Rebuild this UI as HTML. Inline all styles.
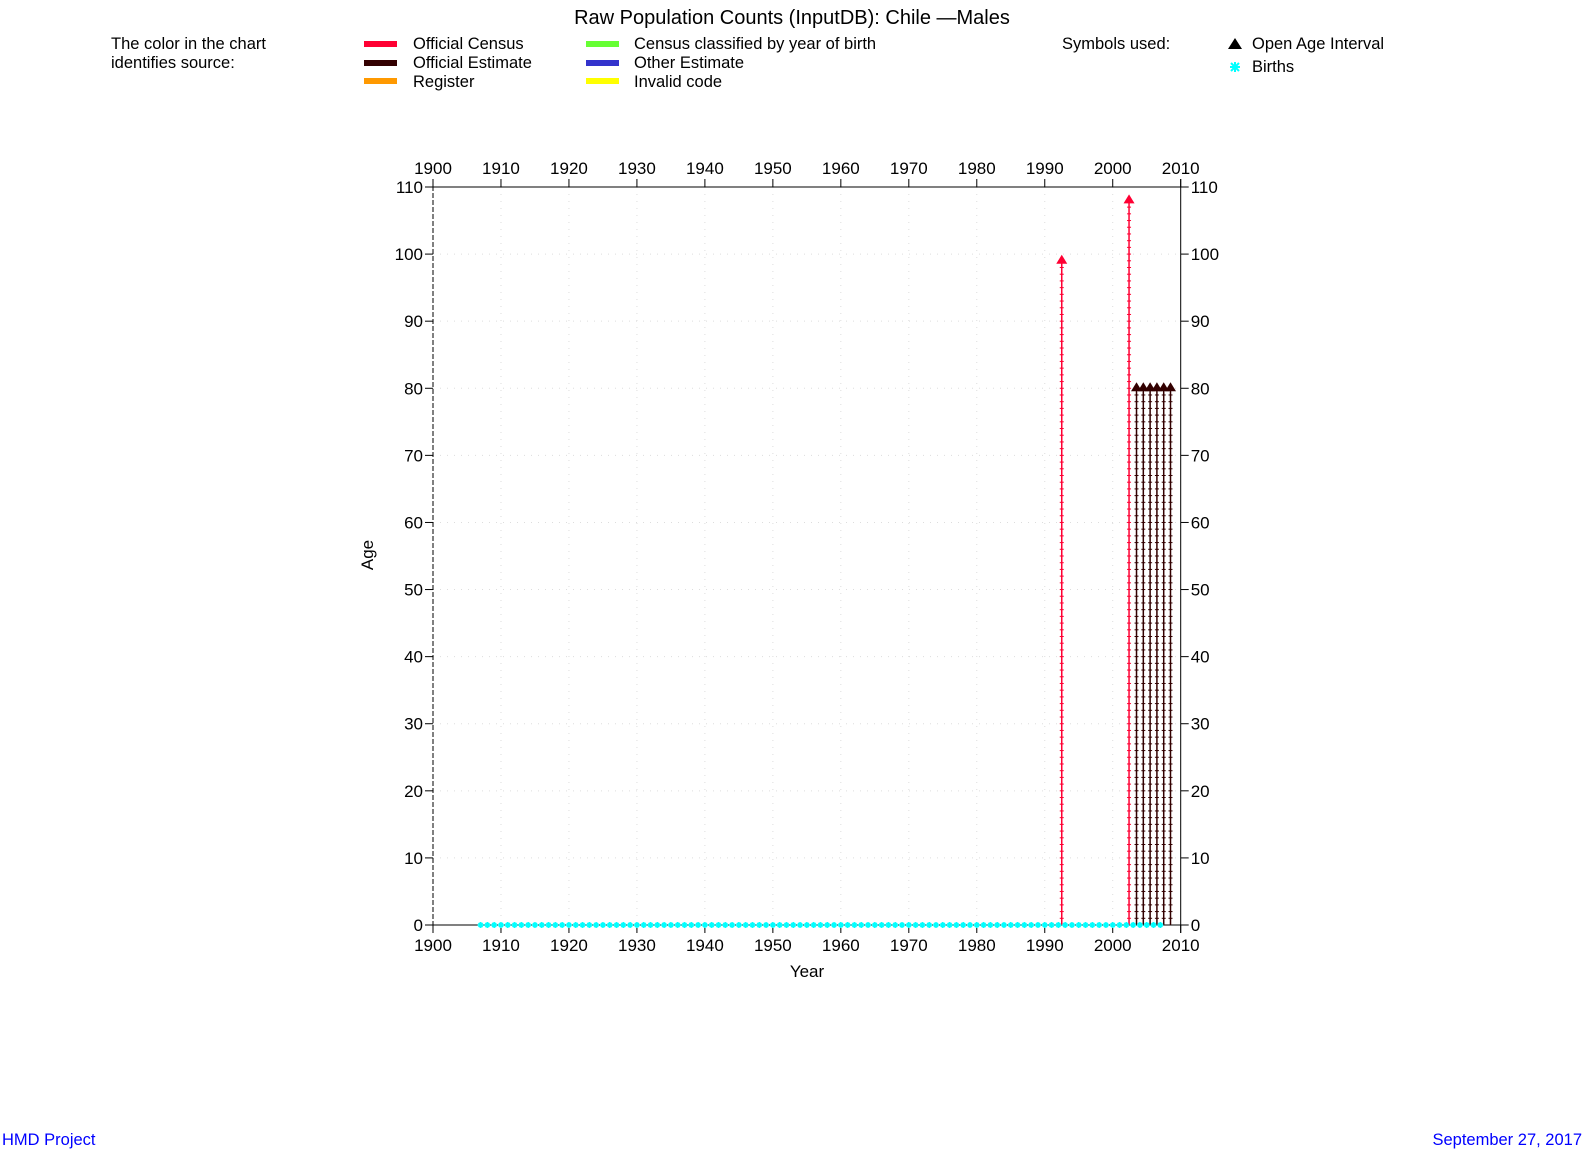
<!DOCTYPE html>
<html><head><meta charset="utf-8"><style>
body{margin:0;background:#fff;width:1584px;height:1152px;overflow:hidden}
svg{display:block;font-family:"Liberation Sans",sans-serif}
</style></head><body>
<svg id="chart" width="1584" height="1152" xmlns="http://www.w3.org/2000/svg">
<text x="792" y="24" font-size="20" text-anchor="middle">Raw Population Counts (InputDB): Chile —Males</text>
<g font-size="16.5" fill="#000">
<text x="111" y="49">The color in the chart</text>
<text x="111" y="68">identifies source:</text>
<rect x="364" y="41" width="33" height="6" fill="#ff0033"/>
<text x="413" y="49">Official Census</text>
<rect x="364" y="60" width="33" height="6" fill="#330000"/>
<text x="413" y="68">Official Estimate</text>
<rect x="364" y="78" width="33" height="6" fill="#ff9900"/>
<text x="413" y="87">Register</text>
<rect x="586" y="41" width="33" height="6" fill="#66ff33"/>
<text x="634" y="49">Census classified by year of birth</text>
<rect x="586" y="60" width="33" height="6" fill="#3333cc"/>
<text x="634" y="68">Other Estimate</text>
<rect x="586" y="78" width="33" height="6" fill="#ffff00"/>
<text x="634" y="87">Invalid code</text>
<text x="1062" y="49">Symbols used:</text>
<polygon points="1235,38 1242,49 1228,49" fill="#000"/>
<text x="1252" y="49">Open Age Interval</text>
<g stroke="#00ffff" stroke-width="2">
<line x1="1230" y1="67" x2="1240" y2="67"/><line x1="1235" y1="62" x2="1235" y2="72"/><line x1="1231" y1="63" x2="1239" y2="71"/><line x1="1239" y1="63" x2="1231" y2="71"/></g>
<text x="1252" y="72">Births</text>
</g>
<g id="plot"></g>
<text x="2" y="1145" fill="#0000ff" font-size="16.5">HMD Project</text>
<text x="1582" y="1145" fill="#0000ff" font-size="16.5" text-anchor="end">September 27, 2017</text>
</svg>
<script>
const xTicks=[1900,1910,1920,1930,1940,1950,1960,1970,1980,1990,2000,2010];
const yTicks=[0,10,20,30,40,50,60,70,80,90,100,110];
const censusYears=[1992.5,2002.4];
const censusTopAges=[99,108];
const estimateYears=[2003.5,2004.5,2005.5,2006.5,2007.5,2008.5];
const estimateTopAges=[80,80,80,80,80,80];
const birthYears=[];for(let y=1907;y<=2007;y++)birthYears.push(y);
const X0=433,X1=1180.7,Y0=925,Y1=187;
const sx=v=>X0+(v-1900)/(110)*(X1-X0);
const sy=v=>Y0-v/110*(Y0-Y1);
const NS="http://www.w3.org/2000/svg";
const g=document.getElementById('plot');
function mk(t,a){const e=document.createElementNS(NS,t);for(const k in a)e.setAttribute(k,a[k]);g.appendChild(e);return e;}
xTicks.forEach(v=>{if(v>1900&&v<2010){const e=mk('line',{x1:sx(v),x2:sx(v),y1:Y1,y2:Y0,stroke:'#ddd','stroke-dasharray':'1,6'});

}});
yTicks.forEach(v=>{if(v>0&&v<110){const e=mk('line',{x1:X0,x2:X1,y1:sy(v),y2:sy(v),stroke:'#ddd','stroke-dasharray':'1,6'});

}});
let a=mk('line',{x1:X0,x2:X0,y1:Y1-8,y2:Y0+8,stroke:'#000','stroke-dasharray':'5,2'});


a=mk('line',{x1:X1,x2:X1,y1:Y1-8,y2:Y0+8,stroke:'#000'});


a=mk('line',{x1:X0,x2:X1,y1:Y1,y2:Y1,stroke:'#000'});


a=mk('line',{x1:X0,x2:X1,y1:Y0,y2:Y0,stroke:'#000'});


xTicks.forEach(v=>{
 let t=mk('line',{x1:sx(v),x2:sx(v),y1:Y1-8,y2:Y1,stroke:'#000'});
 
 
 t=mk('line',{x1:sx(v),x2:sx(v),y1:Y0,y2:Y0+8,stroke:'#000'});
 
 
 let l=mk('text',{x:sx(v),y:Y1-13,'font-size':17,'text-anchor':'middle'});l.textContent=v;
 
 
 l=mk('text',{x:sx(v),y:Y0+26,'font-size':17,'text-anchor':'middle'});l.textContent=v;
 
 
});
yTicks.forEach(v=>{
 let t=mk('line',{x1:X0-8,x2:X0,y1:sy(v),y2:sy(v),stroke:'#000'});
 
 
 t=mk('line',{x1:X1,x2:X1+8,y1:sy(v),y2:sy(v),stroke:'#000'});
 
 
 let l=mk('text',{x:X0-10,y:sy(v)+6,'font-size':17,'text-anchor':'end'});l.textContent=v;
 
 
 l=mk('text',{x:X1+10,y:sy(v)+6,'font-size':17});l.textContent=v;
 
 
});
let at=mk('text',{x:0,y:0,'font-size':17,'text-anchor':'middle',transform:'translate(373,555) rotate(-90)'});at.textContent='Age';


at=mk('text',{x:807,y:977,'font-size':17,'text-anchor':'middle'});at.textContent='Year';


function series(years,tops,color,name){
 years.forEach((y,i)=>{
  const x=sx(y);
  const l=mk('line',{x1:x,x2:x,y1:Y0,y2:sy(tops[i]),stroke:color,'stroke-width':1.5});
  
  
  for(let a=1;a<tops[i];a++){
   const t=mk('line',{x1:x-2,x2:x+2,y1:sy(a),y2:sy(a),stroke:color,'stroke-width':1});
   
   
  }
  const c=sy(tops[i]);
  const p=mk('polygon',{points:`${x},${c-6} ${x+5.5},${c+3} ${x-5.5},${c+3}`,fill:color});
  
  
 });
}
series(censusYears,censusTopAges,'#ff0033','census');
series(estimateYears,estimateTopAges,'#330000','estimate');
birthYears.forEach(y=>{
 const x=sx(y);
 const s=mk('path',{d:`M${x-3},${Y0}H${x+3}M${x},${Y0-3}V${Y0+3}M${x-2},${Y0-2}L${x+2},${Y0+2}M${x+2},${Y0-2}L${x-2},${Y0+2}`,stroke:'#00ffff','stroke-width':1.6});
 
 
});
</script>
</body></html>
